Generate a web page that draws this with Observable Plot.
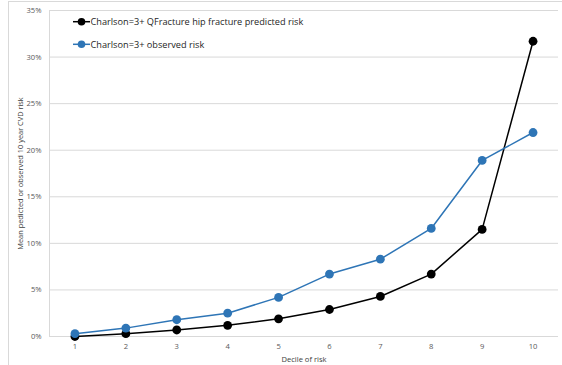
<!DOCTYPE html>
<html>
<head>
<meta charset="utf-8">
<script src="https://cdn.jsdelivr.net/npm/d3@7"></script>
<script src="https://cdn.jsdelivr.net/npm/@observablehq/plot@0.6"></script>
<style>
  html, body { margin: 0; padding: 0; background: #fff; }
  #wrap { position: relative; width: 562px; height: 365px; overflow: hidden; }
  #border { position: absolute; left: 8px; top: 1px; width: 600px; height: 400px; border: 1px solid #d9d9d9; box-sizing: border-box; }
  #chart { position: absolute; left: 0; top: 0; }
  #legend { position: absolute; left: 0; top: 0; }
</style>
</head>
<body>
<div id="wrap"><div id="border"></div><div id="chart"></div><svg id="legend" width="562" height="60"></svg></div>
<script>
const deciles = [1, 2, 3, 4, 5, 6, 7, 8, 9, 10];
const predicted = [0.000, 0.003, 0.007, 0.012, 0.019, 0.029, 0.043, 0.067, 0.115, 0.317];
const observed = [0.003, 0.009, 0.018, 0.025, 0.042, 0.067, 0.083, 0.116, 0.189, 0.219];
const yTicks = [0, 0.05, 0.10, 0.15, 0.20, 0.25, 0.30, 0.35];
const seriesNames = ["Charlson=3+ QFracture hip fracture predicted risk", "Charlson=3+ observed risk"];
const colors = ["#000000", "#2e75b6"];

const data = [];
deciles.forEach((d, i) => {
  data.push({decile: d, value: predicted[i], series: seriesNames[0]});
  data.push({decile: d, value: observed[i], series: seriesNames[1]});
});

const font = "'Open Sans', 'Noto Sans', sans-serif";
const chart = Plot.plot({
  width: 562,
  height: 365,
  marginLeft: 49,
  marginRight: 4,
  marginTop: 10,
  marginBottom: 29,
  style: {fontFamily: font, fontSize: "7.6px", color: "#595959", background: "transparent"},
  x: {domain: [0.5, 10.5]},
  y: {domain: [0, 0.35]},
  color: {domain: seriesNames, range: colors},
  marks: [
    Plot.gridY(yTicks, {stroke: "#d9d9d9", strokeOpacity: 1, strokeWidth: 1}),
    Plot.ruleX([0.5], {stroke: "#d9d9d9"}),
    Plot.ruleY([0], {stroke: "#d9d9d9"}),
    Plot.axisY(yTicks, {tickSize: 0, tickPadding: 8, tickFormat: d3.format(".0%"), label: null, fill: "#595959"}),
    Plot.axisX(deciles, {tickSize: 0, tickPadding: 7, tickFormat: d => String(d), label: null, fill: "#595959"}),
    Plot.text(["Decile of risk"], {frameAnchor: "bottom", dy: 25, fill: "#404040", fontSize: 7.6}),
    Plot.text(["Mean pedicted or observed 10 year CVD risk"], {frameAnchor: "left", textAnchor: "middle", dx: -29, rotate: -90, fill: "#404040", fontSize: 7.4}),
    Plot.line(data, {x: "decile", y: "value", stroke: "series", z: "series", strokeWidth: 1.5}),
    Plot.dot(data, {x: "decile", y: "value", fill: "series", r: 4.4})
  ]
});
document.getElementById("chart").appendChild(chart);

// Legend
const lg = d3.select("#legend");
const rows = lg.selectAll("g").data(seriesNames).join("g")
  .attr("transform", (d, i) => `translate(73, ${21.7 + i * 22.6})`);
rows.append("line").attr("x1", 0).attr("x2", 17).attr("y1", 0).attr("y2", 0)
  .attr("stroke", (d, i) => colors[i]).attr("stroke-width", 1.5);
rows.append("circle").attr("cx", 8.5).attr("cy", 0).attr("r", 3.8)
  .attr("fill", (d, i) => colors[i]);
rows.append("text").attr("x", 17.5).attr("y", 0).attr("dy", "0.35em")
  .attr("font-family", font).attr("font-size", "9.2px").attr("fill", "#262626")
  .text(d => d);
</script>
</body>
</html>
